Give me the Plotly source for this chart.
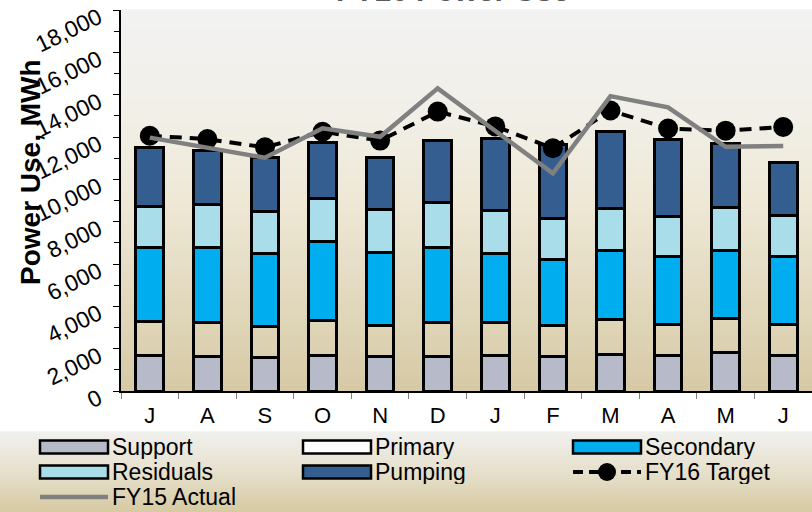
import plotly.graph_objects as go

# Monthly power use by process area, MWh (fiscal year July - June)
months = ["Jul", "Aug", "Sep", "Oct", "Nov", "Dec",
          "Jan", "Feb", "Mar", "Apr", "May", "Jun"]
month_letters = ["J", "A", "S", "O", "N", "D", "J", "F", "M", "A", "M", "J"]

support = [1670, 1650, 1570, 1670, 1610, 1640, 1690, 1610, 1730, 1690, 1810, 1690]
primary = [1600, 1610, 1490, 1640, 1480, 1620, 1570, 1480, 1660, 1430, 1620, 1430]
secondary = [3500, 3510, 3450, 3750, 3450, 3510, 3250, 3120, 3230, 3230, 3200, 3230]
residuals = [1970, 2050, 1960, 2050, 2020, 2140, 2030, 1920, 2010, 1890, 2050, 1940]
pumping = [2770, 2520, 2550, 2630, 2490, 2940, 3370, 3530, 3620, 3650, 2990, 2520]

fy16_target = [12060, 11900, 11510, 12250, 11830, 13200,
               12500, 11470, 13250, 12400, 12300, 12470]
fy15_actual = [11970, 11500, 11020, 12410, 12010, 14300,
               12300, 10280, 13930, 13400, 11540, 11570]

y_tick_values = [0, 2000, 4000, 6000, 8000, 10000, 12000, 14000, 16000, 18000]
y_tick_labels = ["0", "2,000", "4,000", "6,000", "8,000", "10,000",
                 "12,000", "14,000", "16,000", "18,000"]

# Page geometry (pixels)
W, H = 812, 512
M_L, M_R, M_T, M_B = 121, 0, 10, 121
PW = W - M_L - M_R
PH = H - M_T - M_B
FONT = "Liberation Sans, Arial, sans-serif"


def px_x(px):
    return (px - M_L) / PW


def px_y(py):
    return (H - M_B - py) / PH


def lerp_color(stops, t):
    for (t0, c0), (t1, c1) in zip(stops[:-1], stops[1:]):
        if t0 <= t <= t1:
            f = (t - t0) / (t1 - t0) if t1 > t0 else 0
            c = [round(a + (b - a) * f) for a, b in zip(c0, c1)]
            return "rgb(%d,%d,%d)" % tuple(c)
    return "rgb(%d,%d,%d)" % stops[-1][1]


series = [
    ("Support", support, "#b7bac8"),
    ("Primary", primary, "rgba(0,0,0,0)"),
    ("Secondary", secondary, "#00adee"),
    ("Residuals", residuals, "#a9dde9"),
    ("Pumping", pumping, "#345e8f"),
]

fig = go.Figure()
for name, vals, col in series:
    fig.add_trace(go.Bar(
        x=months, y=vals, name=name, width=0.48,
        marker=dict(color=col, line=dict(color="black", width=3)),
        showlegend=False,
    ))

fig.add_trace(go.Scatter(
    x=months, y=fy16_target, name="FY16 Target", mode="lines+markers",
    line=dict(color="black", width=4, dash="12px,8px"),
    marker=dict(color="black", size=20),
    showlegend=False,
))
fig.add_trace(go.Scatter(
    x=months, y=fy15_actual, name="FY15 Actual", mode="lines",
    line=dict(color="#808080", width=4.5),
    showlegend=False,
))

shapes = []
# plot area background: grey at top fading to tan at the bottom
plot_stops = [(0.0, (214, 201, 165)), (0.25, (226, 217, 190)),
              (0.5, (238, 232, 214)), (0.72, (241, 239, 231)),
              (1.0, (242, 242, 242))]
n = 80
for i in range(n):
    t0, t1 = i / n, (i + 1) / n
    shapes.append(dict(type="rect", xref="paper", yref="paper",
                       x0=0, x1=1, y0=t0, y1=t1 + 0.002, layer="below",
                       line=dict(width=0),
                       fillcolor=lerp_color(plot_stops, (t0 + t1) / 2)))

# legend panel background
leg_top, leg_bot = 432, H
leg_stops = [(0.0, (215, 202, 163)), (0.5, (230, 224, 204)),
             (1.0, (240, 240, 238))]
m = 40
for i in range(m):
    f0, f1 = i / m, (i + 1) / m
    y0 = px_y(leg_bot - f0 * (leg_bot - leg_top))
    y1 = px_y(leg_bot - f1 * (leg_bot - leg_top))
    shapes.append(dict(type="rect", xref="paper", yref="paper",
                       x0=px_x(0), x1=px_x(W), y0=y0, y1=y1 + 0.002,
                       layer="below", line=dict(width=0),
                       fillcolor=lerp_color(leg_stops, (f0 + f1) / 2)))

# legend entries: (label, kind, colour, column, row)
legend_items = [
    ("Support", "box", "#b7bac8", 0, 0),
    ("Primary", "box", "#ffffff", 1, 0),
    ("Secondary", "box", "#00adee", 2, 0),
    ("Residuals", "box", "#a9dde9", 0, 1),
    ("Pumping", "box", "#345e8f", 1, 1),
    ("FY16 Target", "target", "black", 2, 1),
    ("FY15 Actual", "actual", "#808080", 0, 2),
]
col_x = [40, 303, 573]
row_y = [447, 472, 497]
sym_w, sym_h = 68, 13
annotations = []
for label, kind, col, c, r in legend_items:
    x0 = col_x[c]
    yc = row_y[r]
    if kind == "box":
        shapes.append(dict(type="rect", xref="paper", yref="paper",
                           x0=px_x(x0), x1=px_x(x0 + sym_w),
                           y0=px_y(yc + sym_h / 2), y1=px_y(yc - sym_h / 2),
                           line=dict(color="black", width=2.5),
                           fillcolor=col))
    elif kind == "target":
        shapes.append(dict(type="line", xref="paper", yref="paper",
                           x0=px_x(x0), x1=px_x(x0 + sym_w),
                           y0=px_y(yc), y1=px_y(yc),
                           line=dict(color="black", width=4, dash="10px,6px")))
        cx = x0 + sym_w / 2
        shapes.append(dict(type="circle", xref="paper", yref="paper",
                           x0=px_x(cx - 9), x1=px_x(cx + 9),
                           y0=px_y(yc + 9), y1=px_y(yc - 9),
                           line=dict(color="black", width=0),
                           fillcolor="black"))
    else:
        shapes.append(dict(type="line", xref="paper", yref="paper",
                           x0=px_x(x0), x1=px_x(x0 + sym_w),
                           y0=px_y(yc), y1=px_y(yc),
                           line=dict(color=col, width=4.5)))
    annotations.append(dict(text=label, xref="paper", yref="paper",
                            x=px_x(x0 + sym_w + 3), y=px_y(yc),
                            xanchor="left", yanchor="middle", showarrow=False,
                            height=24, borderpad=0,
                            font=dict(family=FONT, size=23, color="black")))

# axis title
annotations.append(dict(text="<b>Power Use, MWh</b>", xref="paper", yref="paper",
                        x=px_x(30), y=px_y(172), textangle=-90,
                        xanchor="center", yanchor="middle", showarrow=False,
                        font=dict(family=FONT, size=28, color="black")))
# chart title, running off the top edge of the page
annotations.append(dict(text="<b>FY16 Power Use</b>", xref="paper", yref="paper",
                        x=px_x(452), y=px_y(9), xanchor="center",
                        yanchor="bottom", showarrow=False,
                        font=dict(family=FONT, size=30, color="#595959")))

fig.update_layout(
    width=W, height=H,
    margin=dict(l=M_L, r=M_R, t=M_T, b=M_B, pad=0, autoexpand=False),
    barmode="stack", bargap=0.52,
    paper_bgcolor="white", plot_bgcolor="rgba(0,0,0,0)",
    font=dict(family=FONT, color="black"),
    shapes=shapes, annotations=annotations,
    showlegend=False,
)
fig.update_xaxes(
    type="category", tickmode="array", tickvals=months, ticktext=month_letters,
    tickson="boundaries", ticks="outside", ticklen=6, tickcolor="#808080",
    showline=True, linecolor="black", linewidth=1.5, automargin=False,
    showgrid=False, tickfont=dict(family=FONT, size=22, color="black"),
    ticklabelstandoff=4, range=[-0.5, 11.5],
)
fig.update_yaxes(
    range=[0, 18000], tickmode="array", tickvals=y_tick_values,
    ticktext=y_tick_labels, tickangle=-26, ticks="outside", ticklen=6,
    ticklabelposition="outside", ticklabeloverflow="allow",
    ticklabelshift=5, ticklabelstandoff=10, automargin=False,
    tickcolor="black", showline=True, linecolor="black", linewidth=1.5,
    showgrid=False, zeroline=False,
    tickfont=dict(family=FONT, size=23, color="black"),
    minor=dict(dtick=1000, ticks="outside", ticklen=5, tickcolor="black"),
)

fig.write_html("out.html")
